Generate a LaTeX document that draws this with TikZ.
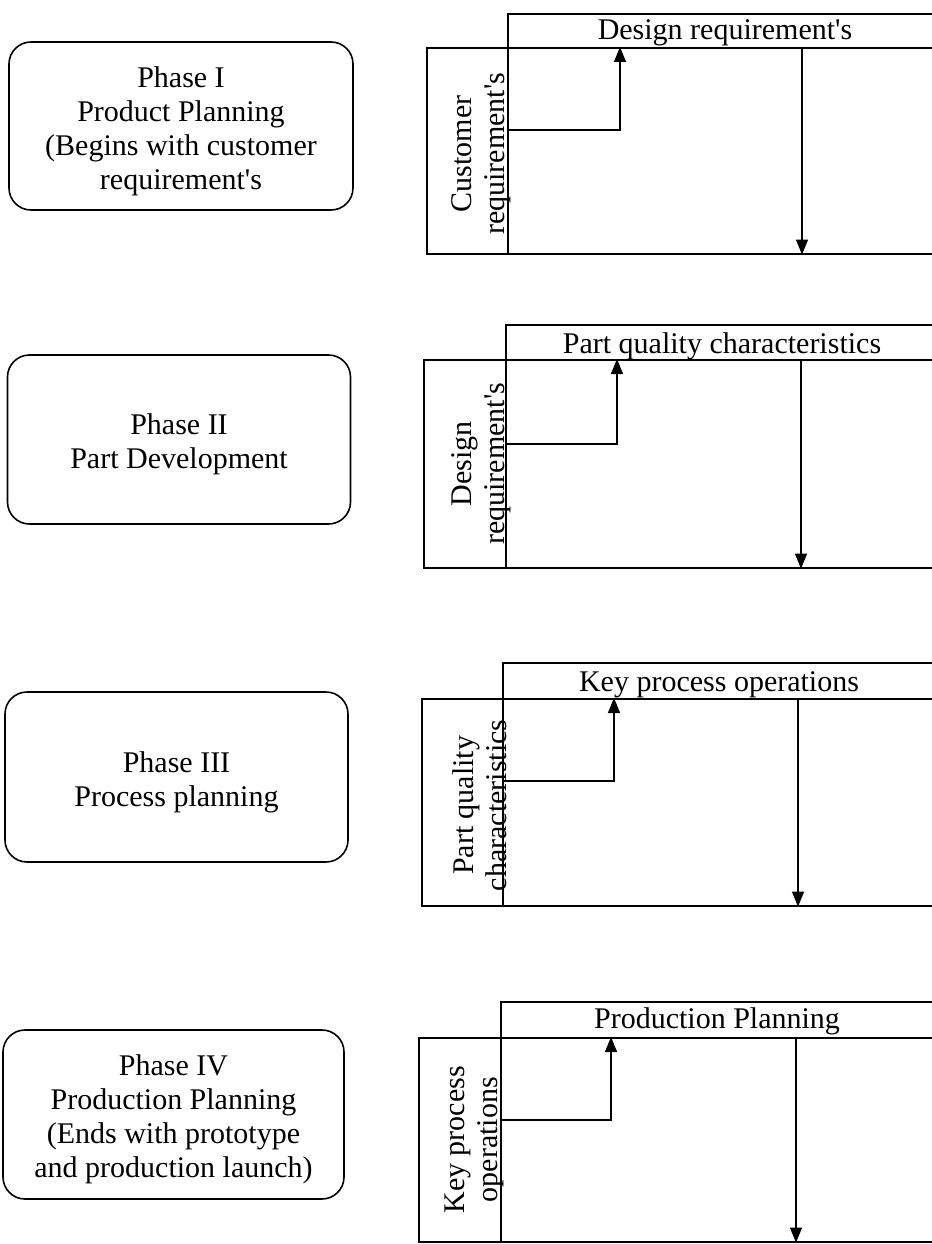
\documentclass[tikz,border=0pt]{standalone}
\usepackage{fontspec}
\setmainfont{Liberation Serif}
\usetikzlibrary{arrows.meta}
% straight typewriter apostrophe, as printed in the labels
\newcommand{\apos}{\textquotesingle}
\begin{document}
\begin{tikzpicture}[x=1pt,y=-1pt,
  line width=1.6pt,
  txt/.style={font=\fontsize{30}{34}\selectfont, inner sep=0pt},
  phasebox/.style={draw, rounded corners=22pt, inner sep=0pt},
  phasetext/.style={txt, align=center},
  hdrbox/.style={draw, inner sep=0pt, anchor=north west, minimum width=436pt},
  colbox/.style={draw, inner sep=0pt, anchor=north west},
  roombox/.style={draw, inner sep=0pt, anchor=north west, minimum width=440pt},
  hdrtext/.style={txt, anchor=base},
  coltext/.style={txt, align=center, rotate=90, font=\fontsize{30}{33}\selectfont},
  flow/.style={line width=1.3pt, -{Triangle[length=15pt,width=12pt]}}]
\useasboundingbox (0,0) rectangle (931,1244);

% ---- phase boxes (left column) ----
\node[phasebox, minimum width=344pt, minimum height=168pt] (p1) at (181,126) {};
\node[phasetext] (p1t) at ([yshift=-5pt]p1.center)
  {Phase I\\Product Planning\\(Begins with customer\\requirement\apos s};

\node[phasebox, minimum width=343pt, minimum height=169pt] (p2) at (179,439.5) {};
\node[phasetext] (p2t) at ([yshift=-5pt]p2.center)
  {Phase II\\Part Development};

\node[phasebox, minimum width=343pt, minimum height=170pt] (p3) at (176.5,777) {};
\node[phasetext] (p3t) at ([yshift=-5pt]p3.center)
  {Phase III\\Process planning};

\node[phasebox, minimum width=341pt, minimum height=169pt] (p4) at (173.5,1114.5) {};
\node[phasetext] (p4t) at ([yshift=-5pt]p4.center)
  {Phase IV\\Production Planning\\(Ends with prototype\\and production launch)};

% ---- house 1 ----
\node[hdrbox, minimum height=34pt] (h1) at (507,13) {};
\node[hdrtext] (h1t) at (725,40) {Design requirement\apos s};
\node[colbox, minimum width=81pt, minimum height=206pt] (c1) at (426,47) {};
\node[roombox, minimum height=206pt] (m1) at (507,47) {};
\node[coltext] (c1t) at ([xshift=14pt,yshift=-3pt]c1.center) {Customer\\requirement\apos s};
\draw[flow] ([yshift=-83pt]c1.north east) -| ([xshift=113pt]m1.north west);
\draw[flow] ([xshift=295pt]m1.north west) -- ([xshift=295pt]m1.south west);

% ---- house 2 ----
\node[hdrbox, minimum height=35pt] (h2) at (505,324) {};
\node[hdrtext] (h2t) at (722,353) {Part quality characteristics};
\node[colbox, minimum width=82pt, minimum height=208pt] (c2) at (423,359) {};
\node[roombox, minimum height=208pt] (m2) at (505,359) {};
\node[coltext] (c2t) at ([xshift=16pt]c2.center) {Design\\requirement\apos s};
\draw[flow] ([yshift=-85pt]c2.north east) -| ([xshift=112pt]m2.north west);
\draw[flow] ([xshift=296pt]m2.north west) -- ([xshift=296pt]m2.south west);

% ---- house 3 ----
\node[hdrbox, minimum height=36pt] (h3) at (502,662) {};
\node[hdrtext] (h3t) at (719,691) {Key process operations};
\node[colbox, minimum width=81pt, minimum height=207pt] (c3) at (421,698) {};
\node[roombox, minimum height=207pt] (m3) at (502,698) {};
\node[coltext] (c3t) at ([xshift=17pt,yshift=-3pt]c3.center) {Part quality\\characteristics};
\draw[flow] ([yshift=-83pt]c3.north east) -| ([xshift=112pt]m3.north west);
\draw[flow] ([xshift=296pt]m3.north west) -- ([xshift=296pt]m3.south west);

% ---- house 4 ----
\node[hdrbox, minimum height=36pt] (h4) at (500,1001) {};
\node[hdrtext] (h4t) at (717,1028) {Production Planning};
\node[colbox, minimum width=82pt, minimum height=204pt] (c4) at (418,1037) {};
\node[roombox, minimum height=204pt] (m4) at (500,1037) {};
\node[coltext] (c4t) at ([xshift=15pt]c4.center) {Key process\\operations};
\draw[flow] ([yshift=-83pt]c4.north east) -| ([xshift=111pt]m4.north west);
\draw[flow] ([xshift=296pt]m4.north west) -- ([xshift=296pt]m4.south west);
\end{tikzpicture}
\end{document}
